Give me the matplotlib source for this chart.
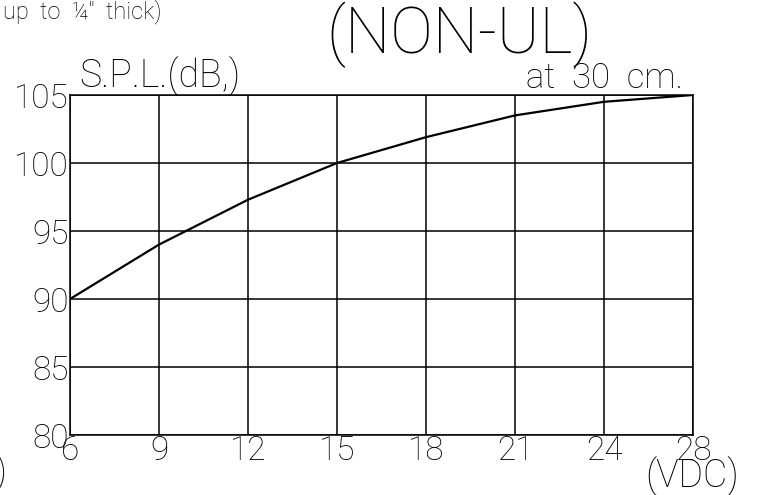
import numpy as np
import matplotlib
matplotlib.use("Agg")
import matplotlib.pyplot as plt

# 電圧 (VDC) と音圧レベル S.P.L. (dB, at 30 cm)
vdc_labels = ["6", "9", "12", "15", "18", "21", "24", "28"]
spl_values = [90.0, 94.0, 97.3, 100.0, 101.9, 103.5, 104.5, 105.0]
spl_ticks = [80, 85, 90, 95, 100, 105]

W, H = 762, 495
plt.rcParams['font.family'] = ['Roboto', 'DejaVu Sans']
plt.rcParams['font.weight'] = 'light'

fig = plt.figure(figsize=(W / 100, H / 100), dpi=100)
fig.patch.set_facecolor("white")

# 枠: 左 70, 右 693, 上 95, 下 435 (px)
ax = fig.add_axes([70 / W, 1 - 435 / H, (693 - 70) / W, (435 - 95) / H])

x = np.arange(len(vdc_labels))
ax.plot(x, spl_values, color="black", lw=1.6, solid_capstyle="round")

ax.set_xlim(0, len(vdc_labels) - 1)
ax.set_ylim(80, 105)
ax.set_xticks(x)
ax.set_xticklabels(vdc_labels, fontsize=24)
ax.set_yticks(spl_ticks)
ax.set_yticklabels([str(v) for v in spl_ticks], fontsize=24)
ax.tick_params(axis="both", length=0, colors="black")
ax.tick_params(axis="x", pad=0)
ax.tick_params(axis="y", pad=1)
ax.grid(True, color="black", lw=1.1)
for s in ax.spines.values():
    s.set_color("black")
    s.set_linewidth(1.1)

def ftext(px, py, s, **kw):
    fig.text(px / W, 1 - py / H, s, **kw)

ftext(459, 53, "(NON-UL)", fontsize=46, ha="center", va="baseline")
ftext(3, 12, "up  to  ¼″  thick)", fontsize=17, ha="left", va="center")
ftext(160, 76, "S.P.L.(dB,)", fontsize=27, ha="center", va="center")
ftext(604, 78, "at  30  cm.", fontsize=25, ha="center", va="center")
ftext(692, 476, "(VDC)", fontsize=27, ha="center", va="center")
ftext(6, 472, ")", fontsize=26, ha="right", va="center")

fig.savefig("out.png", dpi=100, facecolor="white")
